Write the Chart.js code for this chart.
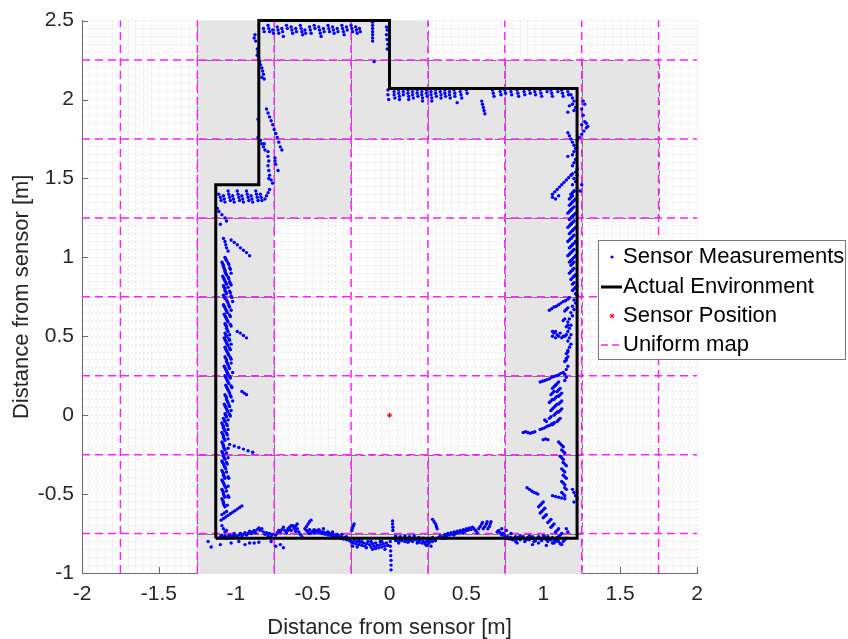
<!DOCTYPE html>
<html>
<head>
<meta charset="utf-8">
<script src="https://cdn.jsdelivr.net/npm/chart.js@4.4.0/dist/chart.umd.min.js"></script>
<style>
html,body{margin:0;padding:0;background:#fff}
#wrap{width:848px;height:639px;position:relative}
</style>
</head>
<body>
<div id="wrap"><canvas id="chart"></canvas></div>
<script>
// axis limits and grid steps
const xLimits=[-2,2], yLimits=[-1,2.5];
const majorStep=0.5, minorStep=0.05;

// uniform map lines
const mapX=[-1.75,-1.25,-0.75,-0.25,0.25,0.75,1.25,1.75];
const mapY=[-0.75,-0.25,0.25,0.75,1.25,1.75,2.25];

// occupied cells of the uniform map (centres), cell size 0.5
const cellSize=0.5;
const occupiedCells=[
  [-1,2.5],[-0.5,2.5],[0,2.5],
  [-1,2],[-0.5,2],[0,2],[0.5,2],[1,2],[1.5,2],
  [-1,1.5],[-0.5,1.5],[1,1.5],[1.5,1.5],
  [-1,1],[1,1],
  [-1,0.5],[1,0.5],
  [-1,0],[1,0],
  [-1,-0.5],[-0.5,-0.5],[0,-0.5],[0.5,-0.5],[1,-0.5],
  [-1,-1],[-0.5,-1],[0,-1],[0.5,-1],[1,-1]
];

// actual environment outline
const envPath=[[-1.13,-0.78],[1.22,-0.78],[1.22,2.07],[0,2.07],[0,2.5],[-0.85,2.5],[-0.85,1.46],[-1.13,1.46],[-1.13,-0.78]];

const sensorPos=[[0,0]];

// sensor measurements, grouped by wall
const leftWallPts=[
  [-1.08,1.12],[-1.07,1.10],[-1.065,1.08],[-1.06,1.06],[-1.05,1.04],
  [-1.03,1.11],[-1.01,1.095],[-0.99,1.08],[-0.97,1.06],[-0.95,1.045],[-0.93,1.03],[-0.91,1.01],
  [-1.12,1.31],[-1.11,1.29],[-1.09,1.27],[-1.07,1.25],[-1.06,1.23],[-1.10,1.21],
  [-1.07,1.00],[-1.065,0.99],[-1.06,0.98],
  [-1.09,0.97],[-1.085,0.96],[-1.08,0.95],[-1.05,0.965],[-1.045,0.955],
  [-1.08,0.94],[-1.075,0.93],[-1.07,0.92],[-1.04,0.935],[-1.035,0.925],
  [-1.07,0.91],[-1.065,0.90],[-1.06,0.89],[-1.03,0.90],
  [-1.085,0.88],[-1.08,0.87],[-1.075,0.86],[-1.05,0.875],[-1.045,0.865],
  [-1.07,0.85],[-1.065,0.84],[-1.06,0.83],[-1.04,0.845],[-1.035,0.835],[-1.03,0.825],
  [-1.08,0.82],[-1.075,0.81],[-1.07,0.80],[-1.05,0.81],
  [-1.07,0.79],[-1.065,0.78],[-1.06,0.77],[-1.04,0.785],[-1.035,0.775],
  [-1.08,0.76],[-1.075,0.75],[-1.07,0.74],[-1.03,0.755],[-1.025,0.745],
  [-1.06,0.73],[-1.055,0.72],[-1.05,0.71],[-1.02,0.72],
  [-1.08,0.70],[-1.075,0.69],[-1.07,0.68],[-1.045,0.695],[-1.04,0.685],
  [-1.065,0.67],[-1.06,0.66],[-1.055,0.65],[-1.03,0.665],
  [-1.075,0.64],[-1.07,0.63],[-1.065,0.62],[-1.04,0.635],[-1.035,0.625],
  [-1.06,0.61],[-1.055,0.60],[-1.05,0.59],
  [-1.07,0.58],[-1.065,0.57],[-1.06,0.56],[-1.035,0.575],[-1.03,0.565],
  [-1.06,0.55],[-1.055,0.54],[-1.05,0.53],
  [-1.07,0.52],[-1.065,0.51],[-1.06,0.50],[-1.04,0.51],
  [-0.99,0.53],[-0.97,0.52],[-0.95,0.505],[-0.93,0.49],
  [-1.075,0.49],[-1.07,0.48],[-1.065,0.47],[-1.045,0.485],[-1.04,0.475],
  [-1.06,0.46],[-1.055,0.45],[-1.05,0.44],[-1.03,0.45],
  [-1.07,0.43],[-1.065,0.42],[-1.06,0.41],[-1.04,0.425],[-1.035,0.415],
  [-1.055,0.40],[-1.05,0.39],[-1.045,0.38],
  [-1.07,0.37],[-1.065,0.36],[-1.06,0.35],[-1.035,0.365],[-1.03,0.355],
  [-1.06,0.34],[-1.055,0.33],[-1.05,0.32],[-1.03,0.33],
  [-1.075,0.31],[-1.07,0.30],[-1.065,0.29],[-1.045,0.305],[-1.04,0.295],
  [-1.06,0.28],[-1.055,0.27],[-1.05,0.26],[-1.02,0.27],
  [-1.07,0.25],[-1.065,0.24],[-1.06,0.23],[-1.04,0.245],[-1.035,0.235],
  [-1.055,0.22],[-1.05,0.21],[-1.045,0.20],
  [-1.065,0.19],[-1.06,0.18],[-1.055,0.17],[-1.03,0.185],[-1.025,0.175],
  [-1.05,0.16],[-1.045,0.15],[-1.04,0.14],
  [-0.96,0.15],[-0.945,0.14],[-0.93,0.13],
  [-1.07,0.13],[-1.065,0.12],[-1.06,0.11],[-1.035,0.125],[-1.03,0.115],
  [-1.06,0.10],[-1.055,0.09],[-1.05,0.08],[-1.02,0.09],
  [-1.075,0.07],[-1.07,0.06],[-1.065,0.05],[-1.045,0.065],[-1.04,0.055],
  [-1.06,0.04],[-1.055,0.03],[-1.05,0.02],[-1.03,0.03],
  [-1.07,0.01],[-1.065,0.00],[-1.06,-0.01],[-1.04,0.005],[-1.035,-0.005],
  [-1.08,-0.02],[-1.075,-0.03],[-1.07,-0.04],[-1.05,-0.03],
  [-1.09,-0.05],[-1.085,-0.06],[-1.08,-0.07],[-1.06,-0.055],[-1.055,-0.065],
  [-1.08,-0.08],[-1.075,-0.09],[-1.07,-0.10],[-1.05,-0.09],
  [-1.09,-0.11],[-1.085,-0.12],[-1.08,-0.13],[-1.06,-0.115],[-1.055,-0.125],
  [-1.08,-0.14],[-1.075,-0.15],[-1.07,-0.16],[-1.05,-0.15],
  [-1.04,-0.185],[-1.01,-0.195],[-0.98,-0.205],[-0.95,-0.215],[-0.92,-0.225],[-0.89,-0.235],
  [-1.09,-0.17],[-1.085,-0.18],[-1.08,-0.19],
  [-1.08,-0.20],[-1.075,-0.21],[-1.07,-0.22],[-1.05,-0.21],
  [-1.09,-0.23],[-1.085,-0.24],[-1.08,-0.25],[-1.06,-0.24],
  [-1.08,-0.26],[-1.075,-0.27],[-1.07,-0.28],[-1.05,-0.27],
  [-1.09,-0.29],[-1.085,-0.30],[-1.08,-0.31],[-1.06,-0.30],[-1.055,-0.31],
  [-1.075,-0.32],[-1.07,-0.33],[-1.065,-0.34],
  [-1.09,-0.35],[-1.085,-0.36],[-1.08,-0.37],[-1.06,-0.36],
  [-1.08,-0.38],[-1.075,-0.39],[-1.07,-0.40],[-1.05,-0.39],[-1.045,-0.40],
  [-1.09,-0.41],[-1.085,-0.42],[-1.08,-0.43],
  [-1.075,-0.44],[-1.07,-0.45],[-1.065,-0.46],[-1.05,-0.45],
  [-1.09,-0.47],[-1.085,-0.48],[-1.08,-0.49],[-1.06,-0.48],
  [-1.08,-0.50],[-1.075,-0.51],[-1.07,-0.52],[-1.05,-0.51],[-1.045,-0.52],
  [-1.09,-0.53],[-1.085,-0.54],[-1.08,-0.55],
  [-1.08,-0.56],[-1.075,-0.57],[-1.07,-0.58],[-1.055,-0.57],
  [-1.095,-0.665],[-1.08,-0.655],[-1.065,-0.645],[-1.05,-0.635],[-1.035,-0.625],[-1.02,-0.615],[-1.005,-0.605],[-0.99,-0.595],[-0.975,-0.585],[-0.96,-0.575],
  [-1.09,-0.63],[-1.075,-0.62],[-1.06,-0.61],
  [-1.09,-0.70],[-1.08,-0.72],[-1.07,-0.74],[-1.06,-0.73]
];
const leftStepPts=[
  [-1.11,1.40],[-1.10,1.38],[-1.095,1.36],
  [-1.08,1.39],[-1.075,1.37],[-1.07,1.35],
  [-1.05,1.42],[-1.045,1.40],[-1.04,1.38],[-1.035,1.36],
  [-1.02,1.39],[-1.015,1.37],[-1.01,1.35],
  [-0.99,1.42],[-0.985,1.40],[-0.98,1.38],[-0.975,1.36],
  [-0.96,1.39],[-0.955,1.37],[-0.95,1.35],
  [-0.93,1.42],[-0.925,1.40],[-0.92,1.38],[-0.915,1.36],
  [-0.90,1.39],[-0.895,1.37],[-0.89,1.35],
  [-0.87,1.42],[-0.865,1.40],[-0.86,1.38],[-0.855,1.36],
  [-0.84,1.40],[-0.835,1.38],[-0.83,1.36],
  [-0.81,1.37],[-0.80,1.39],[-0.79,1.41],[-0.78,1.43]
];
const innerWallPts=[
  [-0.85,2.26],[-0.845,2.24],[-0.84,2.22],[-0.83,2.20],[-0.825,2.18],[-0.82,2.16],[-0.83,2.14],[-0.815,2.13],
  [-0.80,1.94],[-0.79,1.915],[-0.78,1.89],[-0.77,1.865],[-0.76,1.84],[-0.75,1.81],[-0.74,1.785],[-0.73,1.76],[-0.72,1.73],[-0.71,1.70],[-0.70,1.68],
  [-0.855,1.875],[-0.855,1.76],[-0.84,1.74],[-0.83,1.72],[-0.82,1.70],[-0.815,1.72],[-0.81,1.68],
  [-0.79,1.67],[-0.79,1.64],[-0.785,1.61],[-0.79,1.58],[-0.785,1.55],[-0.78,1.52],[-0.785,1.50],
  [-0.745,1.63],[-0.745,1.61],[-0.74,1.59],[-0.725,1.55],[-0.77,1.49],[-0.76,1.47]
];
const topWallPts=[
  [-0.82,2.45],[-0.815,2.43],
  [-0.79,2.47],[-0.785,2.45],[-0.78,2.43],
  [-0.76,2.44],[-0.755,2.42],
  [-0.73,2.46],[-0.725,2.44],[-0.72,2.42],
  [-0.70,2.45],[-0.695,2.43],[-0.69,2.40],
  [-0.67,2.47],[-0.665,2.45],
  [-0.64,2.46],[-0.635,2.44],[-0.63,2.42],
  [-0.61,2.45],[-0.605,2.43],
  [-0.58,2.47],[-0.575,2.45],[-0.57,2.43],[-0.565,2.41],
  [-0.55,2.44],[-0.545,2.42],
  [-0.52,2.46],[-0.515,2.44],[-0.51,2.42],
  [-0.49,2.47],[-0.485,2.45],
  [-0.46,2.46],[-0.455,2.44],[-0.45,2.42],[-0.445,2.40],
  [-0.43,2.45],[-0.425,2.43],
  [-0.40,2.47],[-0.395,2.45],[-0.39,2.43],
  [-0.37,2.46],[-0.365,2.44],[-0.36,2.42],
  [-0.34,2.45],[-0.335,2.43],
  [-0.31,2.47],[-0.305,2.45],[-0.30,2.43],[-0.295,2.41],
  [-0.28,2.46],[-0.275,2.44],
  [-0.25,2.47],[-0.245,2.45],[-0.24,2.43],
  [-0.22,2.46],[-0.215,2.44],[-0.21,2.42],
  [-0.195,2.45],[-0.19,2.43],
  [-0.11,2.49],[-0.11,2.47],[-0.11,2.45],[-0.11,2.43],[-0.11,2.41],[-0.11,2.39],[-0.11,2.37],
  [-0.10,2.24],
  [-0.02,2.46],[-0.015,2.44],[-0.02,2.41],[-0.015,2.38],[-0.01,2.35],[-0.015,2.32],
  [-0.875,2.41],[-0.88,2.39],[-0.87,2.37],[-0.86,2.32],[-0.855,2.30],[-0.86,2.28]
];
const notchPts=[
  [-0.01,2.06],[-0.01,2.03],[-0.005,2.00],
  [0.03,2.05],[0.03,2.03],[0.035,2.01],
  [0.06,2.06],[0.06,2.04],[0.065,2.02],[0.065,2.00],
  [0.09,2.05],[0.09,2.03],
  [0.12,2.06],[0.12,2.04],[0.125,2.02],[0.125,2.00],
  [0.15,2.05],[0.15,2.03],[0.155,2.01],
  [0.18,2.06],[0.18,2.04],[0.185,2.02],
  [0.21,2.05],[0.21,2.03],[0.215,2.01],[0.215,1.99],
  [0.24,2.06],[0.24,2.04],[0.245,2.02],
  [0.27,2.05],[0.27,2.03],[0.275,2.01],[0.275,1.99],
  [0.30,2.06],[0.30,2.04],[0.305,2.02],
  [0.33,2.05],[0.335,2.03],[0.335,2.01],
  [0.36,2.06],[0.36,2.04],[0.365,2.02],
  [0.39,2.05],[0.39,2.03],[0.395,2.01],
  [0.42,2.06],[0.425,2.04],[0.425,2.02],
  [0.44,1.98],
  [0.46,2.05],[0.465,2.03],[0.47,2.01],
  [0.50,2.06],[0.505,2.04],
  [0.60,1.99],[0.605,1.97],[0.61,1.95],[0.615,1.93],[0.62,1.91],
  [0.67,2.06],[0.675,2.04],[0.68,2.02],
  [0.72,2.07],[0.72,2.05],[0.725,2.03],
  [0.75,2.06],[0.755,2.04],
  [0.79,2.07],[0.79,2.05],[0.795,2.03],
  [0.83,2.06],[0.835,2.04],[0.84,2.02],
  [0.87,2.07],[0.875,2.05],[0.88,2.03],
  [0.91,2.06],[0.915,2.04],
  [0.94,2.07],[0.945,2.05],[0.95,2.03],
  [0.98,2.06],[0.985,2.04],[0.99,2.02],
  [1.02,2.07],[1.025,2.05],
  [1.05,2.06],[1.055,2.04],[1.06,2.02],
  [1.09,2.07],[1.095,2.05],
  [1.12,2.06],[1.125,2.04],[1.13,2.02],
  [1.16,2.05],[1.165,2.03]
];
const rightWallPts=[
  [1.18,2.03],[1.19,2.01],[1.20,1.99],[1.19,1.97],[1.21,1.95],[1.20,1.93],[1.17,1.96],[1.16,1.92],
  [1.26,1.99],[1.27,1.97],[1.25,1.94],[1.26,1.90],[1.27,1.86],[1.25,1.84],[1.28,1.85],[1.29,1.83],
  [1.22,1.74],[1.235,1.76],[1.25,1.78],[1.265,1.80],[1.28,1.82],
  [1.16,1.79],[1.17,1.77],[1.18,1.75],[1.19,1.73],[1.20,1.71],[1.21,1.69],[1.20,1.67],[1.16,1.64],[1.19,1.65],[1.21,1.62],[1.20,1.60],[1.19,1.58],[1.22,1.56],[1.21,1.54],
  [1.06,1.40],[1.075,1.415],[1.09,1.43],[1.105,1.445],[1.12,1.46],[1.135,1.475],[1.15,1.49],[1.165,1.505],[1.18,1.52],[1.19,1.53],
  [1.06,1.38],[1.08,1.37],[1.10,1.39],
  [1.22,1.52],[1.20,1.50],[1.21,1.48],[1.19,1.46],[1.22,1.44],[1.20,1.42],[1.25,1.46],[1.24,1.42],
  [1.18,1.40],[1.19,1.41],[1.20,1.42],
  [1.17,1.37],[1.18,1.38],[1.19,1.39],
  [1.19,1.35],[1.20,1.36],[1.21,1.37],
  [1.17,1.33],[1.18,1.34],[1.19,1.35],
  [1.18,1.30],[1.19,1.31],[1.20,1.32],
  [1.16,1.28],[1.17,1.29],[1.18,1.30],
  [1.19,1.26],[1.20,1.27],[1.21,1.28],
  [1.17,1.24],[1.18,1.25],[1.19,1.26],
  [1.18,1.21],[1.19,1.22],[1.20,1.23],
  [1.16,1.19],[1.17,1.20],[1.18,1.21],
  [1.19,1.17],[1.20,1.18],[1.21,1.19],
  [1.17,1.15],[1.18,1.16],[1.19,1.17],
  [1.18,1.12],[1.19,1.13],[1.20,1.14],
  [1.16,1.10],[1.17,1.11],[1.18,1.12],
  [1.19,1.08],[1.20,1.09],[1.21,1.10],
  [1.17,1.06],[1.18,1.07],[1.19,1.08],
  [1.18,1.03],[1.19,1.04],[1.20,1.05],
  [1.16,1.01],[1.17,1.02],[1.18,1.03],
  [1.19,0.99],[1.20,1.00],[1.21,1.01],
  [1.17,0.97],[1.18,0.98],
  [1.18,0.95],[1.19,0.96],[1.20,0.97],
  [1.19,0.92],[1.20,0.93],
  [1.17,0.90],[1.18,0.91],[1.19,0.92],
  [1.20,0.88],[1.21,0.89],
  [1.18,0.86],[1.19,0.87],[1.20,0.88],
  [1.19,0.83],[1.20,0.84],
  [1.21,0.81],[1.22,0.82],
  [1.19,0.79],[1.20,0.80],
  [1.21,0.77],[1.22,0.76],
  [1.04,0.665],[1.055,0.675],[1.07,0.685],[1.085,0.69],[1.10,0.70],[1.115,0.71],[1.13,0.72],[1.145,0.725],[1.16,0.735],[1.17,0.745],
  [1.20,0.73],[1.21,0.71],[1.19,0.69],[1.20,0.67],[1.18,0.65],[1.19,0.63],[1.17,0.61],[1.16,0.59],[1.18,0.57],[1.17,0.55],[1.16,0.53],[1.18,0.51],[1.17,0.49],[1.16,0.47],[1.18,0.45],[1.17,0.43],[1.16,0.41],
  [1.14,0.66],[1.15,0.67],[1.16,0.68],[1.13,0.60],[1.14,0.61],[1.15,0.56],[1.16,0.57],[1.14,0.50],[1.15,0.51],
  [1.06,0.53],[1.07,0.52],[1.08,0.53],[1.09,0.51],[1.10,0.50],[1.11,0.52],[1.12,0.49],[1.06,0.50],[1.08,0.49],[1.13,0.50],
  [0.98,0.21],[0.995,0.215],[1.01,0.22],[1.025,0.225],[1.04,0.23],[1.055,0.24],[1.07,0.245],[1.085,0.25],[1.10,0.255],[1.115,0.265],[1.13,0.27],
  [1.15,0.39],[1.16,0.40],[1.15,0.36],[1.16,0.37],[1.14,0.34],[1.15,0.35],[1.16,0.31],[1.15,0.29],[1.14,0.26],[1.15,0.24],[1.14,0.22],
  [1.08,0.19],[1.09,0.20],[1.10,0.21],
  [1.06,0.17],[1.07,0.18],[1.08,0.19],
  [1.09,0.15],[1.10,0.16],[1.11,0.17],
  [1.05,0.13],[1.06,0.14],[1.07,0.15],
  [1.10,0.12],[1.11,0.13],[1.12,0.14],
  [1.07,0.10],[1.08,0.11],[1.09,0.12],
  [1.04,0.08],[1.05,0.09],[1.06,0.10],
  [1.10,0.07],[1.11,0.08],[1.12,0.09],
  [1.07,0.05],[1.08,0.06],[1.09,0.07],
  [1.05,0.03],[1.06,0.04],
  [1.10,0.02],[1.11,0.03],[1.12,0.04],
  [1.07,0.00],[1.08,0.01],[1.09,0.02],
  [1.04,-0.02],[1.05,-0.01],
  [1.09,-0.04],[1.10,-0.03],[1.11,-0.02],
  [1.06,-0.06],[1.07,-0.05],
  [0.98,-0.09],[0.995,-0.085],[1.01,-0.08],[1.025,-0.07],[1.04,-0.065],[1.055,-0.055],[1.07,-0.05],
  [1.01,-0.03],[1.02,-0.04],
  [0.87,-0.11],[0.885,-0.105],[0.90,-0.11],[0.915,-0.115],[0.93,-0.11],[0.945,-0.105],
  [1.00,-0.155],[1.015,-0.15],[1.03,-0.155],
  [1.10,-0.17],[1.11,-0.18],[1.12,-0.19],[1.13,-0.20],
  [1.12,-0.22],[1.13,-0.23],[1.14,-0.24],
  [1.11,-0.26],[1.12,-0.27],[1.13,-0.28],
  [1.13,-0.30],[1.14,-0.31],[1.15,-0.32],
  [1.12,-0.34],[1.13,-0.35],[1.14,-0.36],
  [1.13,-0.38],[1.14,-0.39],[1.15,-0.40],
  [1.12,-0.42],[1.13,-0.43],[1.14,-0.44],
  [1.14,-0.46],[1.15,-0.47],
  [1.12,-0.49],[1.13,-0.50],[1.14,-0.51],
  [1.19,-0.47],[1.20,-0.49],[1.21,-0.51],[1.22,-0.53],[1.20,-0.55],
  [0.895,-0.46],[0.91,-0.47],[0.925,-0.48],[0.94,-0.49],[0.955,-0.495],[0.965,-0.50],
  [1.06,-0.51],[1.08,-0.515],[1.10,-0.52],[1.12,-0.525],[1.14,-0.53],
  [0.97,-0.58],[0.98,-0.57],[0.99,-0.56],[1.00,-0.55],[0.98,-0.62],[0.99,-0.61],[1.00,-0.60],[1.01,-0.59],[1.00,-0.65],[1.01,-0.64],[1.02,-0.63],
  [1.03,-0.68],[1.04,-0.67],[1.05,-0.66],[1.05,-0.71],[1.06,-0.70],[1.07,-0.69],[1.08,-0.74],[1.09,-0.73],[1.10,-0.72],[1.10,-0.77],[1.11,-0.76],[1.12,-0.75],[1.13,-0.80],[1.14,-0.79],[1.15,-0.78],[1.12,-0.82],[1.07,-0.81],[1.15,-0.72],[1.16,-0.74]
];
const bottomWallPts=[
  [-1.12,-0.78],[-1.10,-0.77],[-1.09,-0.76],[-1.08,-0.775],[-1.07,-0.765],[-1.06,-0.78],[-1.05,-0.77],[-1.04,-0.76],[-1.03,-0.775],[-1.02,-0.765],[-1.01,-0.75],[-1.00,-0.765],[-0.99,-0.775],[-0.98,-0.76],[-0.97,-0.75],[-0.96,-0.765],[-0.95,-0.755],[-0.94,-0.745],[-0.93,-0.76],[-0.92,-0.75],[-0.91,-0.735],[-0.90,-0.75],[-0.89,-0.74],[-0.88,-0.73],[-0.87,-0.745],[-0.86,-0.725],[-0.85,-0.715],[-0.84,-0.73],[-0.83,-0.72],[-0.82,-0.74],[-0.81,-0.755],[-0.80,-0.745],[-0.79,-0.765],[-0.78,-0.75],[-0.77,-0.77],[-0.76,-0.755],
  [-1.18,-0.80],[-1.16,-0.835],[-1.10,-0.82],[-1.03,-0.81],[-0.98,-0.80],[-0.94,-0.82],[-0.91,-0.81],[-0.88,-0.81],[-0.85,-0.805],[-0.77,-0.80],[-0.74,-0.83],[-0.71,-0.82],[-0.69,-0.84],
  [-0.74,-0.76],[-0.73,-0.745],[-0.72,-0.73],[-0.71,-0.74],[-0.70,-0.725],[-0.69,-0.71],[-0.68,-0.73],[-0.67,-0.745],[-0.66,-0.73],[-0.65,-0.715],[-0.64,-0.73],[-0.63,-0.70],[-0.62,-0.72],[-0.61,-0.735],[-0.60,-0.72],[-0.59,-0.74],[-0.58,-0.755],[-0.57,-0.77],
  [-0.66,-0.72],[-0.65,-0.71],[-0.64,-0.70],[-0.62,-0.71],[-0.61,-0.70],[-0.60,-0.69],
  [-0.55,-0.72],[-0.54,-0.705],[-0.53,-0.69],[-0.52,-0.675],[-0.51,-0.665],
  [-0.54,-0.73],[-0.53,-0.74],[-0.52,-0.725],[-0.51,-0.745],[-0.50,-0.735],[-0.49,-0.725],[-0.48,-0.74],[-0.47,-0.73],[-0.46,-0.745],[-0.45,-0.735],[-0.44,-0.75],[-0.43,-0.74],[-0.42,-0.755],[-0.41,-0.745],[-0.40,-0.76],[-0.39,-0.75],[-0.38,-0.765],[-0.37,-0.755],[-0.36,-0.77],[-0.35,-0.76],[-0.34,-0.775],[-0.33,-0.765],[-0.32,-0.78],[-0.31,-0.77],[-0.30,-0.785],[-0.29,-0.775],[-0.28,-0.79],[-0.27,-0.78],[-0.26,-0.795],
  [-0.52,-0.75],[-0.49,-0.745],[-0.46,-0.725],[-0.43,-0.72],[-0.40,-0.74],[-0.37,-0.74],[-0.34,-0.755],[-0.31,-0.755],[-0.28,-0.77],
  [-0.245,-0.73],[-0.24,-0.715],[-0.235,-0.70],[-0.23,-0.69],
  [-0.25,-0.80],[-0.24,-0.81],[-0.23,-0.795],[-0.22,-0.815],[-0.21,-0.80],[-0.20,-0.82],[-0.19,-0.805],[-0.18,-0.825],[-0.17,-0.81],[-0.16,-0.83],[-0.15,-0.815],[-0.14,-0.80],[-0.13,-0.82],[-0.12,-0.835],[-0.11,-0.815],[-0.10,-0.83],[-0.09,-0.81],[-0.08,-0.825],[-0.07,-0.84],[-0.06,-0.82],[-0.05,-0.835],[-0.04,-0.815],[-0.03,-0.83],[-0.02,-0.81],[-0.01,-0.825],
  [-0.24,-0.83],[-0.21,-0.835],[-0.18,-0.80],[-0.15,-0.84],[-0.12,-0.80],[-0.09,-0.845],[-0.06,-0.80],[-0.03,-0.85],[-0.20,-0.79],[-0.11,-0.85],[-0.05,-0.80],
  [0.005,-0.80],[0.005,-0.83],[0.008,-0.86],[0.008,-0.89],[0.01,-0.92],[0.01,-0.95],[0.01,-0.98],
  [0.02,-0.67],[0.02,-0.69],[0.022,-0.71],[0.022,-0.73],
  [0.03,-0.78],[0.04,-0.795],[0.05,-0.78],[0.06,-0.80],[0.07,-0.785],[0.08,-0.795],[0.09,-0.78],[0.10,-0.80],[0.11,-0.79],[0.12,-0.78],[0.13,-0.795],[0.14,-0.785],[0.15,-0.80],[0.16,-0.79],[0.17,-0.78],[0.18,-0.795],[0.19,-0.805],[0.20,-0.79],[0.21,-0.81],[0.22,-0.80],[0.23,-0.815],[0.24,-0.80],[0.25,-0.82],[0.26,-0.805],[0.27,-0.79],[0.28,-0.80],[0.29,-0.785],[0.30,-0.795],
  [0.04,-0.765],[0.07,-0.77],[0.10,-0.765],[0.13,-0.77],[0.16,-0.765],[0.19,-0.775],[0.22,-0.78],[0.25,-0.79],[0.28,-0.775],[0.06,-0.81],[0.12,-0.805],[0.18,-0.81],[0.24,-0.825],[0.27,-0.83],
  [0.28,-0.66],[0.29,-0.675],[0.30,-0.69],[0.305,-0.705],[0.31,-0.72],
  [0.32,-0.775],[0.33,-0.765],[0.34,-0.78],[0.35,-0.77],[0.36,-0.755],[0.37,-0.765],[0.38,-0.75],[0.39,-0.76],[0.40,-0.745],[0.41,-0.755],[0.42,-0.74],[0.43,-0.75],[0.44,-0.735],[0.45,-0.745],[0.46,-0.73],[0.47,-0.74],[0.48,-0.725],[0.49,-0.735],[0.50,-0.72],[0.51,-0.73],[0.52,-0.715],[0.53,-0.725],[0.54,-0.71],[0.55,-0.72],[0.56,-0.73],[0.57,-0.745],
  [0.58,-0.72],[0.59,-0.705],[0.60,-0.69],[0.605,-0.68],[0.61,-0.72],[0.62,-0.705],[0.63,-0.69],[0.635,-0.675],[0.64,-0.72],[0.65,-0.705],[0.655,-0.69],[0.66,-0.675],
  [0.36,-0.78],[0.37,-0.77],[0.42,-0.76],[0.43,-0.745],[0.48,-0.745],[0.49,-0.73],
  [0.70,-0.74],[0.71,-0.73],[0.72,-0.745],[0.73,-0.76],[0.74,-0.75],[0.75,-0.765],[0.76,-0.78],[0.77,-0.77],[0.78,-0.785],[0.79,-0.775],[0.80,-0.79],[0.81,-0.78],[0.82,-0.77],[0.83,-0.785],[0.84,-0.775],[0.85,-0.79],[0.86,-0.78],[0.87,-0.77],[0.88,-0.785],[0.89,-0.79],[0.90,-0.775],[0.91,-0.79],[0.92,-0.78],[0.93,-0.77],[0.94,-0.785],[0.95,-0.795],[0.96,-0.78],[0.97,-0.77],[0.98,-0.785],[0.99,-0.795],[1.00,-0.78],[1.01,-0.77],[1.02,-0.79],[1.03,-0.80],[1.04,-0.785],[1.05,-0.79],[1.06,-0.775],[1.07,-0.79],[1.08,-0.80],[1.09,-0.79],[1.10,-0.80],[1.11,-0.815],
  [0.73,-0.72],[0.76,-0.73],[0.79,-0.75],[0.82,-0.80],[0.85,-0.765],[0.88,-0.80],[0.91,-0.765],[0.94,-0.80],[0.97,-0.81],[1.00,-0.765],[1.03,-0.77],[1.06,-0.81],[1.09,-0.775],[0.93,-0.82],[1.02,-0.825],[0.83,-0.81]
];

const legendLabels=["Sensor Measurements","Actual Environment","Sensor Position","Uniform map"];
const axisTitle="Distance from sensor [m]";

const FONT='"Liberation Sans", Arial, Helvetica, sans-serif';
const BLUE="#0000ff", MAGENTA="#ff22ff", GRAY_CELL="#e5e5e5", AXIS="#6b6b6b";

const isMajor=v=>Math.abs(v/majorStep-Math.round(v/majorStep))<1e-6;
const tickLabel=v=>isMajor(v)?String(Math.round(v*100)/100):"";
const toXY=p=>({x:p[0],y:p[1]});

const measured=[...leftWallPts,...leftStepPts,...innerWallPts,...topWallPts,...notchPts,...rightWallPts,...bottomWallPts].map(toXY);

// inner tick marks (drawn before the grey cells, like matlab's bottom layer)
const tickMarks={id:"tickMarks",beforeDatasetsDraw(c){
  const g=c.ctx,a=c.chartArea,sx=c.scales.x,sy=c.scales.y;
  g.save();g.strokeStyle=AXIS;g.lineWidth=1;g.beginPath();
  for(let v=xLimits[0];v<=xLimits[1]+1e-9;v+=majorStep){const px=Math.round(sx.getPixelForValue(v))+0.5;g.moveTo(px,a.bottom);g.lineTo(px,a.bottom-6)}
  for(let v=yLimits[0];v<=yLimits[1]+1e-9;v+=majorStep){const py=Math.round(sy.getPixelForValue(v))+0.5;g.moveTo(a.left,py);g.lineTo(a.left+6,py)}
  g.stroke();g.restore();
}};

// occupied cells of the uniform map
const cells={id:"cells",beforeDatasetsDraw(c){
  const g=c.ctx,a=c.chartArea,sx=c.scales.x,sy=c.scales.y,h=cellSize/2;
  g.save();
  g.beginPath();g.rect(a.left-1,a.top,a.right-a.left+2,a.bottom-a.top+1);g.clip();
  occupiedCells.forEach(([cx,cy])=>{
    const x0=sx.getPixelForValue(cx-h),x1=sx.getPixelForValue(cx+h);
    const y0=sy.getPixelForValue(cy+h),y1=sy.getPixelForValue(cy-h);
    g.fillStyle=GRAY_CELL;g.fillRect(x0,y0,x1-x0,y1-y0);
  });
  g.strokeStyle="#777";g.lineWidth=1;g.setLineDash([5,4]);
  occupiedCells.forEach(([cx,cy])=>{
    const x0=Math.round(sx.getPixelForValue(cx-h))+0.5,x1=Math.round(sx.getPixelForValue(cx+h))+0.5;
    const y0=Math.round(sy.getPixelForValue(cy+h))+0.5,y1=Math.round(sy.getPixelForValue(cy-h))+0.5;
    g.strokeRect(x0,y0,x1-x0,y1-y0);
  });
  g.restore();
}};

// legend box overlapping the plot, like the reference
const legendBox={id:"legendBox",afterDraw(c){
  const g=c.ctx;
  const bx=598.5,by=240.5,bw=247,bh=119,rows=[257,287,316,345],tx=623,ix=612;
  g.save();
  g.fillStyle="#fff";g.fillRect(bx,by,bw,bh);
  g.strokeStyle="#777";g.lineWidth=1;g.strokeRect(bx,by,bw,bh);
  g.fillStyle=BLUE;g.beginPath();g.arc(ix,rows[0],1.6,0,Math.PI*2);g.fill();
  g.strokeStyle="#000";g.lineWidth=3;g.beginPath();g.moveTo(601,rows[1]);g.lineTo(622,rows[1]);g.stroke();
  g.strokeStyle="#ff0000";g.fillStyle="#ff0000";g.lineWidth=1;
  Chart.helpers.drawPoint(g,{pointStyle:"star",radius:2.5,rotation:0,borderWidth:1},ix,rows[2]);
  g.strokeStyle=MAGENTA;g.lineWidth=1.5;g.setLineDash([7,4]);g.beginPath();g.moveTo(601,rows[3]);g.lineTo(623,rows[3]);g.stroke();g.setLineDash([]);
  g.fillStyle="#000";g.font="22px "+FONT;g.textBaseline="middle";g.textAlign="left";
  legendLabels.forEach((t,i)=>g.fillText(t,tx,rows[i]));
  g.restore();
}};

const mapSets=[
  ...mapX.map(v=>({type:"line",data:[{x:v,y:yLimits[0]},{x:v,y:yLimits[1]}]})),
  ...mapY.map(v=>({type:"line",data:[{x:xLimits[0],y:v},{x:xLimits[1],y:v}]}))
].map(d=>Object.assign(d,{borderColor:MAGENTA,borderWidth:1.5,borderDash:[8,5],pointRadius:0,fill:false,order:5,clip:false}));

const datasets=[
  {label:legendLabels[0],data:measured,pointRadius:1.7,pointHoverRadius:1.7,pointBorderWidth:0,pointBackgroundColor:BLUE,backgroundColor:BLUE,borderColor:BLUE,showLine:false,order:3},
  {type:"line",label:legendLabels[1],data:envPath.map(toXY),borderColor:"#000",borderWidth:3,pointRadius:0,fill:false,tension:0,borderJoinStyle:"miter",clip:false,order:2},
  {label:legendLabels[2],data:sensorPos.map(toXY),pointStyle:"star",pointRadius:2.5,pointBorderColor:"#ff0000",pointBorderWidth:1,pointBackgroundColor:"#ff0000",showLine:false,order:1},
  ...mapSets
];

const scaleFont={family:FONT,size:21};
new Chart(document.getElementById("chart"),{
  type:"scatter",
  data:{datasets},
  plugins:[tickMarks,cells,legendBox],
  options:{
    responsive:true,maintainAspectRatio:false,animation:false,
    layout:{padding:{top:19,right:151,bottom:0,left:0}},
    plugins:{legend:{display:false},tooltip:{enabled:false}},
    scales:{
      x:{type:"linear",min:xLimits[0],max:xLimits[1],
        afterFit:s=>{s.height=66},
        ticks:{stepSize:minorStep,autoSkip:false,maxRotation:0,minRotation:0,maxTicksLimit:500,padding:9,color:"#262626",font:scaleFont,callback:tickLabel},
        grid:{color:"rgba(0,0,0,0.08)",lineWidth:1,drawTicks:false},
        border:{display:true,color:AXIS,width:1,dash:[2,2]},
        title:{display:true,text:axisTitle,color:"#262626",font:{family:FONT,size:22,lineHeight:1},padding:{top:0,bottom:0}}},
      y:{type:"linear",min:yLimits[0],max:yLimits[1],
        afterFit:s=>{s.width=82},
        ticks:{stepSize:minorStep,autoSkip:false,maxTicksLimit:500,padding:8,color:"#262626",font:scaleFont,callback:tickLabel},
        grid:{color:"rgba(0,0,0,0.08)",lineWidth:1,drawTicks:false},
        border:{display:true,color:AXIS,width:1,dash:[2,2]},
        title:{display:true,text:axisTitle,color:"#262626",font:{family:FONT,size:22,lineHeight:1},padding:{top:11,bottom:0}}}
    }
  }
});
</script>
</body>
</html>
